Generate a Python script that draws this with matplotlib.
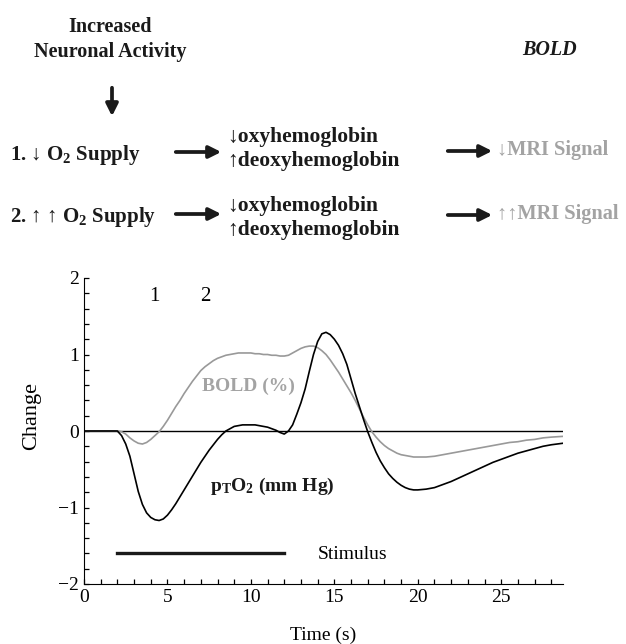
import matplotlib
matplotlib.use("Agg")
import matplotlib.pyplot as plt
from matplotlib.patches import FancyArrowPatch
from matplotlib.ticker import MultipleLocator

plt.rcParams['font.family'] = ['Liberation Serif', 'DejaVu Serif']
plt.rcParams['mathtext.fontset'] = 'custom'
plt.rcParams['mathtext.rm'] = 'Liberation Serif'
plt.rcParams['mathtext.bf'] = 'Liberation Serif:bold'
plt.rcParams['mathtext.it'] = 'Liberation Serif:italic'

# time axis (s)
t = [0, 0.5, 1, 1.5,
     2, 2.25, 2.5, 2.75, 3, 3.25, 3.5, 3.75, 4, 4.25, 4.5, 4.75,
     5, 5.25, 5.5, 5.75, 6, 6.25, 6.5, 6.75, 7, 7.25, 7.5, 7.75,
     8, 8.25, 8.5, 8.75, 9, 9.25, 9.5, 9.75, 10, 10.25, 10.5, 10.75,
     11, 11.25, 11.5, 11.75, 12, 12.25, 12.5, 12.75, 13, 13.25, 13.5, 13.75,
     14, 14.25, 14.5, 14.75, 15, 15.25, 15.5, 15.75, 16, 16.25, 16.5, 16.75,
     17, 17.25, 17.5, 17.75, 18, 18.25, 18.5, 18.75, 19, 19.25, 19.5, 19.75,
     20, 20.5, 21, 21.5, 22, 22.5, 23, 23.5, 24, 24.5, 25, 25.5,
     26, 26.5, 27, 27.5, 28, 28.7]

# tissue pO2 (mm Hg)
pto2 = [0, 0, 0, 0,
        0, -0.06, -0.17, -0.33, -0.56, -0.79, -0.96, -1.07, -1.13, -1.16, -1.17, -1.15,
        -1.10, -1.03, -0.95, -0.86, -0.77, -0.68, -0.59, -0.50, -0.41, -0.33, -0.25, -0.18,
        -0.11, -0.05, 0.0, 0.03, 0.06, 0.07, 0.08, 0.08, 0.08, 0.08, 0.07, 0.06,
        0.05, 0.03, 0.01, -0.02, -0.04, 0.0, 0.08, 0.22, 0.37, 0.55, 0.78, 1.00,
        1.17, 1.27, 1.29, 1.26, 1.20, 1.12, 1.01, 0.87, 0.68, 0.49, 0.32, 0.15,
        -0.01, -0.15, -0.28, -0.39, -0.48, -0.56, -0.62, -0.67, -0.71, -0.74, -0.76, -0.77,
        -0.77, -0.76, -0.74, -0.70, -0.66, -0.61, -0.56, -0.51, -0.46, -0.41, -0.37, -0.33,
        -0.29, -0.26, -0.23, -0.20, -0.18, -0.16]

# BOLD signal (%)
bold = [0, 0, 0, 0,
        0, -0.01, -0.04, -0.09, -0.13, -0.16, -0.17, -0.15, -0.11, -0.06, -0.01, 0.06,
        0.14, 0.23, 0.32, 0.40, 0.49, 0.57, 0.65, 0.72, 0.79, 0.84, 0.88, 0.92,
        0.95, 0.97, 0.99, 1.00, 1.01, 1.02, 1.02, 1.02, 1.02, 1.01, 1.01, 1.00,
        1.00, 0.99, 0.99, 0.98, 0.98, 0.99, 1.02, 1.05, 1.08, 1.10, 1.11, 1.11,
        1.09, 1.05, 1.00, 0.93, 0.85, 0.77, 0.68, 0.59, 0.50, 0.40, 0.29, 0.18,
        0.08, -0.01, -0.08, -0.14, -0.19, -0.23, -0.26, -0.29, -0.31, -0.32, -0.33, -0.34,
        -0.34, -0.34, -0.33, -0.31, -0.29, -0.27, -0.25, -0.23, -0.21, -0.19, -0.17, -0.15,
        -0.14, -0.12, -0.11, -0.09, -0.08, -0.07]

stim_on, stim_off = 2, 12

W, H = 626, 644
fig = plt.figure(figsize=(W / 100, H / 100), dpi=100)


def px(x, y):
    return x / W, 1 - y / H


def ftext(x, y, s, **kw):
    fx, fy = px(x, y)
    kw.setdefault('va', 'baseline')
    fig.text(fx, fy, s, **kw)


def farrow(x0, y0, x1, y1):
    fig.add_artist(FancyArrowPatch(
        px(x0, y0), px(x1, y1), transform=fig.transFigure,
        arrowstyle='-|>', mutation_scale=18, lw=2.7, color='#1a1a1a'))


dark = '#1a1a1a'
grey = '#a3a3a3'

# top schematic
ftext(110, 32, 'Increased', ha='center', fontsize=14.5, fontweight='bold', color=dark)
ftext(110, 57, 'Neuronal Activity', ha='center', fontsize=14.5, fontweight='bold', color=dark)
ftext(549, 55, 'BOLD', ha='center', fontsize=14.5, fontweight='bold', style='italic', color=dark)
farrow(112, 85, 112, 119)

ftext(10, 160, r'1. ↓ $\mathbf{O_2}$ Supply', fontsize=15, fontweight='bold', color=dark)
ftext(10, 222, r'2. ↑ ↑ $\mathbf{O_2}$ Supply', fontsize=15, fontweight='bold', color=dark)
farrow(173, 152, 224, 152)
farrow(173, 214, 224, 214)

ftext(227, 142, '↓oxyhemoglobin', fontsize=15.5, fontweight='bold', color=dark)
ftext(227, 166, '↑deoxyhemoglobin', fontsize=15.5, fontweight='bold', color=dark)
ftext(227, 211, '↓oxyhemoglobin', fontsize=15.5, fontweight='bold', color=dark)
ftext(227, 235, '↑deoxyhemoglobin', fontsize=15.5, fontweight='bold', color=dark)
farrow(445, 151, 495, 151)
farrow(445, 215, 495, 215)

ftext(497, 155, '↓MRI Signal', fontsize=14.7, fontweight='bold', color=grey)
ftext(497, 219, '↑↑MRI Signal', fontsize=14.7, fontweight='bold', color=grey)

# plot
l, r = 84 / W, 563 / W
b, tp = (H - 584) / H, (H - 278) / H
ax = fig.add_axes([l, b, r - l, tp - b])

ax.axhline(0, color='black', lw=1.0)
ax.plot(t, bold, color='#999999', lw=1.2)
ax.plot(t, pto2, color='black', lw=1.2)
ax.plot([stim_on, stim_off], [-1.6, -1.6], color='#1a1a1a', lw=2.4)

ax.set_xlim(0, 28.7)
ax.set_ylim(-2, 2)
ax.spines['top'].set_visible(False)
ax.spines['right'].set_visible(False)
ax.xaxis.set_major_locator(MultipleLocator(5))
ax.xaxis.set_minor_locator(MultipleLocator(1))
ax.yaxis.set_minor_locator(MultipleLocator(0.2))
ax.set_yticks([-2, -1, 0, 1, 2])
ax.set_yticklabels(['\u22122', '\u22121', '0', '1', '2'])
ax.tick_params(which='both', direction='in', length=3.5, width=0.9,
               labelsize=14, colors='black')

ax.set_xlabel('Time (s)', fontsize=14)
ax.set_ylabel('Change', fontsize=16)
ax.yaxis.set_label_coords(-0.09, 0.55)
ax.xaxis.set_label_coords(0.5, -0.14)

ax.text(4.2, 1.76, '1', fontsize=15, ha='center', va='center')
ax.text(7.25, 1.76, '2', fontsize=15, ha='center', va='center')
ax.text(9.85, 0.58, 'BOLD (%)', fontsize=14, fontweight='bold', color=grey,
        ha='center', va='center')
ax.text(11.3, -0.72, r'$\mathbf{p_TO_2}$ (mm Hg)', fontsize=14,
        fontweight='bold', color=dark, ha='center', va='center')
ax.text(14.0, -1.62, 'Stimulus', fontsize=14, ha='left', va='center')

fig.savefig('out.png', dpi=100)
